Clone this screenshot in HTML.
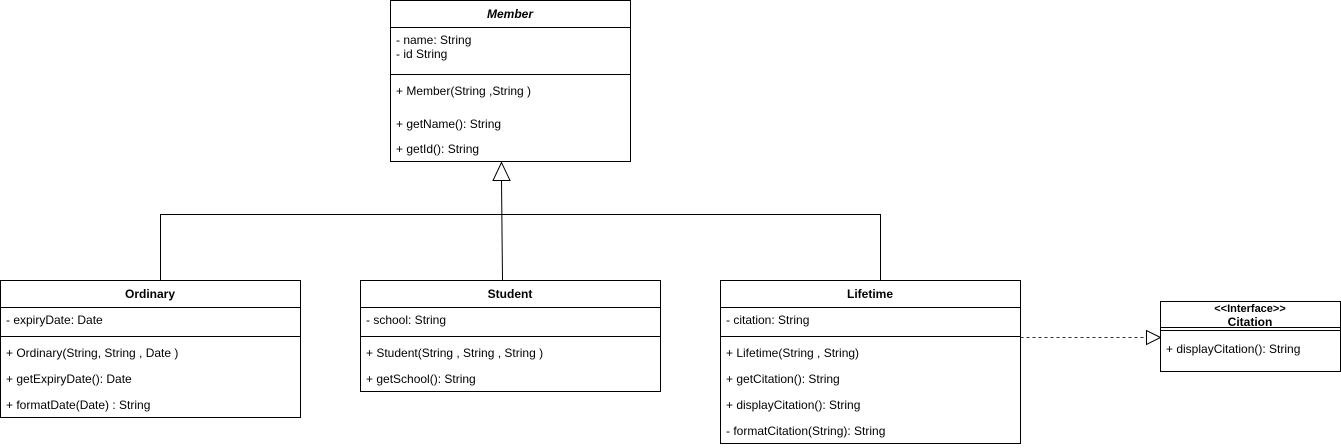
<!DOCTYPE html>
<html><head><meta charset="utf-8"><style>
html,body{margin:0;padding:0;background:#fff;}
svg{display:block;}
text{font-family:"Liberation Sans",Arial,sans-serif;font-size:12px;fill:#000;}
.b{font-weight:bold;}
</style></head><body>
<svg width="1341" height="448" viewBox="0 0 1341 448" xmlns="http://www.w3.org/2000/svg">
<g fill="#fff" stroke="#000" stroke-width="1">
<!-- Member -->
<rect x="390.5" y="0.5" width="240" height="161"/>
<line x1="390.5" y1="27.5" x2="630.5" y2="27.5"/>
<line x1="390.5" y1="74.5" x2="630.5" y2="74.5"/>
<!-- connectors -->
<line x1="501.5" y1="180" x2="502.5" y2="280" fill="none"/>
<polygon points="501.5,162.5 493,180.5 510,180.5"/>
<polyline points="160.5,280 160.5,214.5 880.5,214.5 880.5,280" fill="none"/>
<!-- Ordinary -->
<rect x="0.5" y="280.5" width="300" height="137"/>
<line x1="0.5" y1="307.5" x2="300.5" y2="307.5"/>
<line x1="0.5" y1="336.5" x2="300.5" y2="336.5"/>
<!-- Student -->
<rect x="360.5" y="280.5" width="300" height="111"/>
<line x1="360.5" y1="307.5" x2="660.5" y2="307.5"/>
<line x1="360.5" y1="336.5" x2="660.5" y2="336.5"/>
<!-- Lifetime -->
<rect x="720.5" y="280.5" width="300" height="163"/>
<line x1="720.5" y1="307.5" x2="1020.5" y2="307.5"/>
<line x1="720.5" y1="336.5" x2="1020.5" y2="336.5"/>
<!-- realization -->
<line x1="1020.5" y1="337.5" x2="1147" y2="337.5" stroke-dasharray="3,3" stroke="#333" fill="none"/>
<polygon points="1160.5,337.5 1146.5,330.5 1146.5,344.5"/>
<!-- Citation -->
<rect x="1160.5" y="301.5" width="180" height="70"/>
<line x1="1160.5" y1="327.5" x2="1340.5" y2="327.5"/>
<line x1="1160.5" y1="330.5" x2="1340.5" y2="330.5"/>
</g>
<text x="510" y="18" text-anchor="middle" class="b" font-style="italic">Member</text>
<text x="396" y="44">- name: String</text>
<text x="396" y="58">- id String</text>
<text x="396" y="95">+ Member(String ,String )</text>
<text x="396" y="128">+ getName(): String</text>
<text x="396" y="153">+ getId(): String</text>

<text x="150" y="298" text-anchor="middle" class="b">Ordinary</text>
<text x="6" y="324">- expiryDate: Date</text>
<text x="6" y="357">+ Ordinary(String, String , Date )</text>
<text x="6" y="383">+ getExpiryDate(): Date</text>
<text x="6" y="409">+ formatDate(Date) : String</text>

<text x="510" y="298" text-anchor="middle" class="b">Student</text>
<text x="366" y="324">- school: String</text>
<text x="366" y="357">+ Student(String , String , String )</text>
<text x="366" y="383">+ getSchool(): String</text>

<text x="870" y="298" text-anchor="middle" class="b">Lifetime</text>
<text x="726" y="324">- citation: String</text>
<text x="726" y="357">+ Lifetime(String , String)</text>
<text x="726" y="383">+ getCitation(): String</text>
<text x="726" y="409">+ displayCitation(): String</text>
<text x="726" y="435">- formatCitation(String): String</text>

<text x="1250" y="312" text-anchor="middle" class="b" style="font-size:11px">&lt;&lt;Interface&gt;&gt;</text>
<text x="1250" y="326" text-anchor="middle" class="b">Citation</text>
<text x="1166" y="353">+ displayCitation():  String</text>
</svg>
</body></html>
